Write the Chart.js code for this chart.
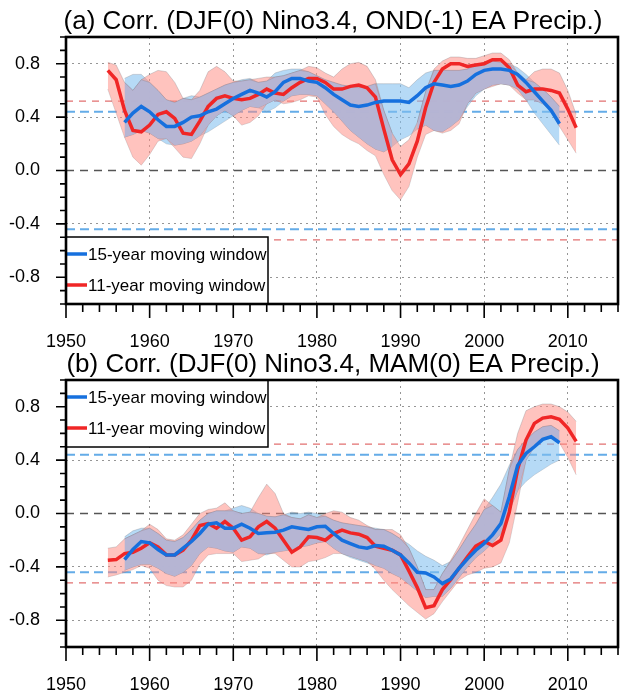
<!DOCTYPE html>
<html>
<head>
<meta charset="utf-8">
<script src="https://cdn.jsdelivr.net/npm/chart.js@4.4.0/dist/chart.umd.min.js"></script>
<style>
html, body { margin: 0; padding: 0; background: #fff; overflow: hidden; }
#wrap { position: relative; width: 633px; height: 695px; overflow: hidden; }
canvas { position: absolute; left: 0; }
#chartA { top: 0; }
#chartB { top: 343px; }
</style>
</head>
<body>
<div id="wrap">
  <canvas id="chartA" width="645" height="352"></canvas>
  <canvas id="chartB" width="645" height="352"></canvas>
</div>
<script>
var FONT = "'Liberation Sans', Arial, Helvetica, sans-serif";

// first year of each moving-window series
var start15 = 1957;
var start11 = 1955;
var xMin = 1950, xMax = 2016;
// significance levels
var sig15 = 0.44;
var sig11 = 0.52;

// ---- panel (a): DJF(0) Nino3.4 vs OND(-1) EA precip ----
var blue15A = [0.36,0.43,0.48,0.44,0.38,0.33,0.33,0.36,0.40,0.41,
  0.44,0.46,0.50,0.54,0.57,0.60,0.58,0.55,0.59,0.66,
  0.69,0.69,0.67,0.66,0.62,0.57,0.53,0.49,0.48,0.49,
  0.51,0.52,0.52,0.52,0.51,0.56,0.62,0.65,0.64,0.63,
  0.64,0.67,0.72,0.75,0.76,0.76,0.75,0.72,0.66,0.59,
  0.52,0.45,0.35];
var blueUpA = [0.69,0.72,0.72,0.66,0.60,0.53,0.51,0.54,0.56,0.55,
  0.58,0.61,0.64,0.66,0.68,0.69,0.66,0.67,0.73,0.75,
  0.76,0.76,0.74,0.71,0.68,0.66,0.64,0.63,0.62,0.63,
  0.65,0.65,0.65,0.65,0.62,0.68,0.73,0.75,0.75,0.75,
  0.75,0.76,0.79,0.81,0.82,0.81,0.80,0.77,0.72,0.66,
  0.61,0.55,0.48];
var blueLoA = [0.25,0.27,0.30,0.28,0.24,0.20,0.19,0.20,0.22,0.26,
  0.29,0.33,0.37,0.41,0.45,0.48,0.47,0.44,0.47,0.52,
  0.56,0.57,0.57,0.56,0.50,0.44,0.37,0.30,0.25,0.20,
  0.16,0.14,0.18,0.23,0.26,0.31,0.34,0.30,0.29,0.33,
  0.38,0.48,0.56,0.61,0.64,0.65,0.64,0.61,0.53,0.43,
  0.35,0.27,0.19];
var red11A = [0.75,0.68,0.45,0.30,0.29,0.34,0.42,0.44,0.39,0.28,
  0.27,0.37,0.48,0.54,0.56,0.54,0.53,0.54,0.57,0.61,
  0.58,0.57,0.62,0.66,0.69,0.69,0.66,0.61,0.61,0.63,
  0.64,0.62,0.55,0.31,0.08,-0.03,0.05,0.22,0.47,0.66,
  0.76,0.80,0.80,0.78,0.79,0.80,0.83,0.83,0.77,0.64,
  0.59,0.61,0.61,0.60,0.58,0.46,0.32];
var redUpA = [0.81,0.79,0.66,0.60,0.68,0.72,0.75,0.74,0.66,0.54,
  0.53,0.60,0.74,0.78,0.74,0.67,0.67,0.68,0.69,0.70,
  0.70,0.71,0.73,0.75,0.78,0.77,0.73,0.70,0.76,0.80,
  0.81,0.78,0.68,0.45,0.28,0.18,0.23,0.36,0.59,0.76,
  0.82,0.85,0.85,0.84,0.84,0.86,0.88,0.88,0.83,0.73,
  0.68,0.74,0.76,0.76,0.73,0.60,0.42];
var redLoA = [0.61,0.43,0.25,0.10,0.04,0.12,0.22,0.24,0.17,0.10,
  0.09,0.20,0.34,0.41,0.45,0.41,0.34,0.36,0.41,0.50,
  0.53,0.50,0.51,0.53,0.56,0.55,0.42,0.33,0.27,0.23,
  0.20,0.15,0.11,-0.03,-0.15,-0.22,-0.12,0.10,0.27,0.30,
  0.28,0.30,0.35,0.50,0.58,0.61,0.63,0.65,0.64,0.58,
  0.53,0.53,0.50,0.45,0.33,0.23,0.13];

// ---- panel (b): DJF(0) Nino3.4 vs MAM(0) EA precip ----
var blue15B = [-0.345,-0.27,-0.21,-0.22,-0.27,-0.31,-0.31,-0.26,-0.21,-0.15,
  -0.08,-0.07,-0.11,-0.11,-0.08,-0.11,-0.15,-0.145,-0.14,-0.125,
  -0.10,-0.11,-0.12,-0.10,-0.095,-0.15,-0.20,-0.225,-0.25,-0.26,
  -0.24,-0.245,-0.275,-0.31,-0.37,-0.44,-0.445,-0.475,-0.525,-0.49,
  -0.41,-0.34,-0.275,-0.225,-0.16,-0.075,0.125,0.36,0.45,0.50,
  0.555,0.575,0.53];
var blueUpB = [-0.175,-0.13,-0.11,-0.11,-0.15,-0.20,-0.21,-0.18,-0.12,-0.05,
  0.0,0.02,0.02,0.04,0.06,0.04,0.0,-0.02,-0.025,-0.01,
  0.01,0.0,0.01,0.0,-0.02,-0.05,-0.07,-0.08,-0.09,-0.10,
  -0.11,-0.12,-0.15,-0.19,-0.23,-0.28,-0.32,-0.35,-0.39,-0.36,
  -0.27,-0.17,-0.08,0.03,0.12,0.22,0.36,0.48,0.55,0.61,
  0.65,0.66,0.62];
var blueLoB = [-0.425,-0.40,-0.38,-0.38,-0.41,-0.45,-0.47,-0.44,-0.39,-0.30,
  -0.25,-0.26,-0.28,-0.29,-0.25,-0.26,-0.30,-0.31,-0.29,-0.28,
  -0.27,-0.25,-0.24,-0.22,-0.21,-0.26,-0.30,-0.33,-0.35,-0.37,
  -0.39,-0.41,-0.45,-0.48,-0.53,-0.58,-0.63,-0.62,-0.62,-0.56,
  -0.48,-0.40,-0.33,-0.28,-0.22,-0.15,0.02,0.17,0.24,0.29,
  0.33,0.37,0.40];
var red11B = [-0.35,-0.345,-0.30,-0.29,-0.26,-0.22,-0.25,-0.31,-0.31,-0.275,
  -0.20,-0.09,-0.075,-0.11,-0.06,-0.11,-0.20,-0.175,-0.10,-0.06,
  -0.11,-0.20,-0.29,-0.25,-0.175,-0.18,-0.20,-0.15,-0.125,-0.145,
  -0.155,-0.18,-0.245,-0.26,-0.275,-0.31,-0.43,-0.555,-0.705,-0.69,
  -0.57,-0.495,-0.41,-0.325,-0.245,-0.21,-0.24,-0.20,0.01,0.33,
  0.55,0.675,0.715,0.725,0.705,0.64,0.54];
var redUpB = [-0.26,-0.25,-0.19,-0.16,-0.13,-0.08,-0.12,-0.19,-0.20,-0.16,
  -0.08,0.0,0.03,0.04,0.08,0.02,0.0,0.01,0.12,0.22,
  0.15,0.0,-0.03,-0.04,-0.01,-0.03,0.0,0.02,0.01,-0.03,
  -0.05,-0.09,-0.12,-0.12,-0.12,-0.16,-0.26,-0.40,-0.57,-0.57,
  -0.45,-0.35,-0.24,-0.12,0.0,0.11,0.06,0.01,0.33,0.60,
  0.77,0.80,0.82,0.82,0.80,0.76,0.69];
var redLoB = [-0.475,-0.46,-0.44,-0.42,-0.39,-0.41,-0.50,-0.54,-0.55,-0.55,
  -0.50,-0.38,-0.31,-0.30,-0.30,-0.30,-0.36,-0.35,-0.34,-0.30,
  -0.30,-0.35,-0.40,-0.40,-0.36,-0.35,-0.33,-0.30,-0.30,-0.32,
  -0.34,-0.36,-0.42,-0.50,-0.57,-0.63,-0.69,-0.74,-0.79,-0.75,
  -0.66,-0.58,-0.50,-0.46,-0.44,-0.41,-0.40,-0.37,-0.22,0.08,
  0.40,0.50,0.55,0.57,0.53,0.42,0.29];

var labels = ['15-year moving window', '11-year moving window'];
var titleA = '(a) Corr. (DJF(0) Nino3.4, OND(-1) EA Precip.)';
var titleB = '(b) Corr. (DJF(0) Nino3.4, MAM(0) EA Precip.)';

var BLUE = 'rgb(22,112,222)';
var RED = 'rgb(240,38,38)';

function pts(start, vals) {
  return vals.map(function (v, i) { return { x: start + i, y: v }; });
}

// where the two confidence bands overlap (drawn in grey-blue)
function overlap(bUp, bLo, rUp, rLo) {
  var up = [], lo = [];
  for (var i = 0; i < bUp.length; i++) {
    var yr = start15 + i, j = yr - start11;
    var u = Math.min(bUp[i], rUp[j]), l = Math.max(bLo[i], rLo[j]);
    if (u > l) { up.push({ x: yr, y: u }); lo.push({ x: yr, y: l }); }
    else { up.push({ x: yr, y: null }); lo.push({ x: yr, y: null }); }
  }
  return { up: up, lo: lo };
}

function hline(v, color, dash, width, order) {
  return { data: [{ x: xMin, y: v }, { x: xMax, y: v }], borderColor: color, borderDash: dash,
    borderWidth: width, pointRadius: 0, fill: false, order: order };
}

function band(data, color, fillTo, order) {
  return { data: data, borderColor: 'rgba(110,110,120,0.4)', borderWidth: 0.7, backgroundColor: color,
    pointRadius: 0, fill: fillTo, order: order, spanGaps: false };
}

var frame = {
  id: 'frame',
  afterDraw: function (chart) {
    var ctx = chart.ctx, a = chart.chartArea, sx = chart.scales.x, sy = chart.scales.y;
    ctx.save();
    ctx.strokeStyle = '#000';
    ctx.lineWidth = 1.6;
    ctx.beginPath();
    sy.ticks.forEach(function (t) {
      var y = sy.getPixelForValue(t.value);
      var len = Math.round(t.value * 10) % 4 === 0 ? 10 : 6;
      ctx.moveTo(a.left - len, y); ctx.lineTo(a.left, y);
    });
    sx.ticks.forEach(function (t) {
      var x = sx.getPixelForValue(t.value);
      var len = t.value % 10 === 0 ? 14 : 8;
      ctx.moveTo(x, a.bottom); ctx.lineTo(x, a.bottom + len);
    });
    ctx.stroke();
    ctx.lineWidth = 2.6;
    ctx.strokeRect(a.left, a.top, a.right - a.left, a.bottom - a.top);
    ctx.restore();
  }
};

var boxLegend = {
  id: 'boxLegend',
  afterDatasetsDraw: function (chart, args, opts) {
    var ctx = chart.ctx, a = chart.chartArea;
    var w = 202, h = 67;
    var top = opts.position === 'top' ? a.top : a.bottom - h;
    ctx.save();
    ctx.fillStyle = '#fff';
    ctx.fillRect(a.left, top, w, h);
    ctx.strokeStyle = '#000';
    ctx.lineWidth = 1.5;
    ctx.strokeRect(a.left, top, w, h);
    var rows = [top + 17, top + 48];
    [0, 1].forEach(function (k) {
      var ds = chart.data.datasets[k];
      ctx.strokeStyle = ds.borderColor;
      ctx.lineWidth = 3.5;
      ctx.beginPath();
      ctx.moveTo(a.left, rows[k]); ctx.lineTo(a.left + 21, rows[k]);
      ctx.stroke();
      ctx.fillStyle = '#000';
      ctx.font = '17px ' + FONT;
      ctx.textBaseline = 'middle';
      ctx.textAlign = 'left';
      ctx.fillText(ds.label, a.left + 22, rows[k] + 1);
    });
    ctx.restore();
  }
};

var plotTitle = {
  id: 'plotTitle',
  afterDraw: function (chart, args, opts) {
    var ctx = chart.ctx;
    ctx.save();
    ctx.fillStyle = '#000';
    ctx.font = '26px ' + FONT;
    ctx.textAlign = 'center';
    ctx.textBaseline = 'middle';
    ctx.fillText(opts.text, 333, 22);
    ctx.restore();
  }
};

function makeChart(id, title, legendPos, b15, bUp, bLo, r11, rUp, rLo) {
  var ov = overlap(bUp, bLo, rUp, rLo);
  var datasets = [
    { label: labels[0], data: pts(start15, b15), borderColor: BLUE, borderWidth: 3.5, pointRadius: 0, fill: false, order: 0 },
    { label: labels[1], data: pts(start11, r11), borderColor: RED, borderWidth: 3.5, pointRadius: 0, fill: false, order: 1 },
    band(ov.up, 'rgba(180,182,214,0.93)', 3, 2),
    band(ov.lo, 'rgba(0,0,0,0)', false, 3),
    band(pts(start11, rUp), 'rgba(255,140,130,0.52)', 5, 4),
    band(pts(start11, rLo), 'rgba(0,0,0,0)', false, 5),
    band(pts(start15, bUp), 'rgba(130,192,240,0.58)', 7, 6),
    band(pts(start15, bLo), 'rgba(0,0,0,0)', false, 7),
    hline(0, 'rgb(85,85,85)', [8, 6], 1.4, 8),
    hline(sig15, 'rgb(100,172,232)', [9, 5], 1.8, 9),
    hline(-sig15, 'rgb(100,172,232)', [9, 5], 1.8, 10),
    hline(sig11, 'rgb(226,112,112)', [7, 6], 1.2, 11),
    hline(-sig11, 'rgb(226,112,112)', [7, 6], 1.2, 12)
  ];
  return new Chart(document.getElementById(id), {
    type: 'line',
    data: { datasets: datasets },
    plugins: [boxLegend, frame, plotTitle],
    options: {
      responsive: false,
      animation: false,
      events: [],
      layout: { padding: { top: 37, left: 0, right: 10, bottom: 0 } },
      plugins: {
        legend: { display: false },
        tooltip: { enabled: false },
        boxLegend: { position: legendPos },
        plotTitle: { text: title }
      },
      scales: {
        x: {
          type: 'linear', min: xMin, max: xMax,
          afterFit: function (s) { s.height = 48; },
          border: { display: false, dash: [2, 4] },
          grid: {
            drawTicks: false,
            lineWidth: 1,
            color: function (c) {
              var v = c.tick.value;
              return (v % 10 === 0 && v > xMin && v <= 2010) ? 'rgb(150,150,150)' : 'rgba(0,0,0,0)';
            }
          },
          ticks: {
            stepSize: 2, autoSkip: false, maxRotation: 0, padding: 27,
            color: '#000', font: { family: FONT, size: 18 },
            callback: function (v) { return v % 10 === 0 && v <= 2010 ? String(v) : ''; }
          }
        },
        y: {
          min: -1, max: 1,
          afterFit: function (s) { s.width = 66; },
          border: { display: false, dash: [2, 4] },
          grid: {
            drawTicks: false,
            lineWidth: 1,
            color: function (c) {
              var r = Math.round(c.tick.value * 10);
              return (r % 4 === 0 && r !== 0 && Math.abs(r) < 10) ? 'rgb(150,150,150)' : 'rgba(0,0,0,0)';
            }
          },
          ticks: {
            stepSize: 0.1, autoSkip: false, padding: 26,
            color: '#000', font: { family: FONT, size: 18 },
            callback: function (v) {
              var r = Math.round(v * 10);
              return (r % 4 === 0 && Math.abs(r) < 10) ? (r / 10).toFixed(1) : '';
            }
          }
        }
      }
    }
  });
}

makeChart('chartA', titleA, 'bottom', blue15A, blueUpA, blueLoA, red11A, redUpA, redLoA);
makeChart('chartB', titleB, 'top', blue15B, blueUpB, blueLoB, red11B, redUpB, redLoB);
</script>
</body>
</html>
